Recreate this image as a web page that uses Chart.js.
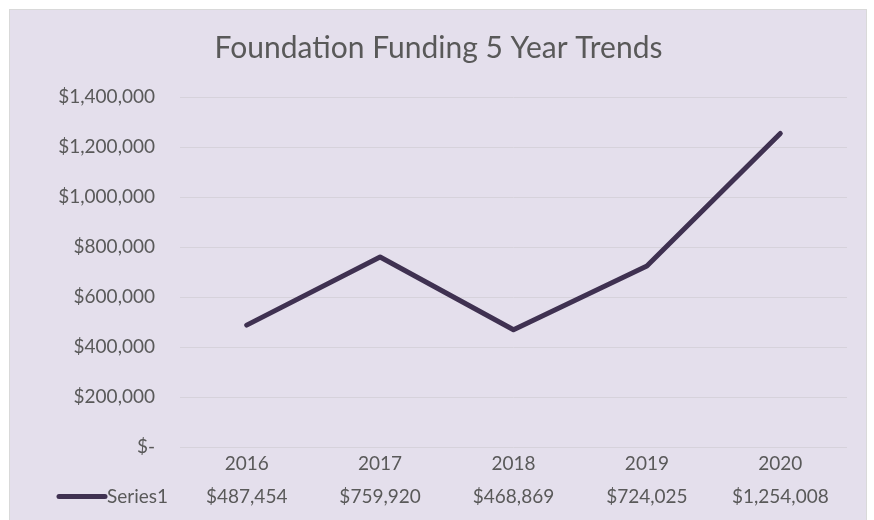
<!DOCTYPE html>
<html>
<head>
<meta charset="utf-8">
<script src="https://cdn.jsdelivr.net/npm/chart.js@4/dist/chart.umd.min.js"></script>
<style>
  html, body { margin: 0; padding: 0; background: #ffffff; }
  #wrap { position: absolute; left: 0; top: 0; width: 874px; height: 520px; }
</style>
</head>
<body>
<div id="wrap"><canvas id="c" width="874" height="520"></canvas></div>
<script>
const chartTitle = 'Foundation Funding 5 Year Trends';
const years = ['2016', '2017', '2018', '2019', '2020'];
const seriesName = 'Series1';
const funding = [487454, 759920, 468869, 724025, 1254008];
const yMin = 0, yMax = 1400000, yStep = 200000;

const FONT = 'Lato, "Open Sans", sans-serif';
const TEXT = '#595959';
const LINE = '#3F3151';
const ROW_H = 33;

function money(v) {
  if (v === 0) return '$-';
  return '$' + v.toLocaleString('en-US');
}

const labels = years.map((y, i) => [y, money(funding[i])]);

const bgPlugin = {
  id: 'bg',
  beforeDraw(chart) {
    const ctx = chart.ctx;
    ctx.save();
    ctx.fillStyle = '#E4DFEC';
    ctx.fillRect(9, 9, 858, 515);
    ctx.strokeStyle = '#D9D9D9';
    ctx.lineWidth = 1;
    ctx.strokeRect(9.5, 9.5, 857, 515);
    ctx.restore();
  }
};

const tableLegend = {
  id: 'tableLegend',
  afterDraw(chart) {
    const ctx = chart.ctx;
    const xs = chart.scales.x;
    const ds = chart.data.datasets[0];
    const y = xs.top + ROW_H * 1.5;
    ctx.save();
    ctx.strokeStyle = ds.borderColor;
    ctx.lineWidth = 5;
    ctx.lineCap = 'round';
    ctx.beginPath();
    ctx.moveTo(59, y);
    ctx.lineTo(105, y);
    ctx.stroke();
    ctx.fillStyle = TEXT;
    ctx.font = '19px ' + FONT;
    ctx.textBaseline = 'middle';
    ctx.textAlign = 'left';
    ctx.fillText(ds.label, 107, y);
    ctx.restore();
  }
};

new Chart(document.getElementById('c'), {
  type: 'line',
  data: {
    labels: labels,
    datasets: [{
      label: seriesName,
      data: funding,
      borderColor: LINE,
      borderWidth: 5,
      borderCapStyle: 'round',
      borderJoinStyle: 'round',
      pointRadius: 0,
      pointHoverRadius: 0,
      tension: 0,
      fill: false
    }]
  },
  options: {
    responsive: false,
    animation: false,
    devicePixelRatio: 1,
    layout: { padding: { left: 30, right: 27, top: 10, bottom: 0 } },
    plugins: {
      legend: { display: false },
      tooltip: { enabled: false },
      title: {
        display: true,
        text: chartTitle,
        color: TEXT,
        font: { family: FONT, size: 30, weight: 'normal', lineHeight: 1.2 },
        padding: { top: 20, bottom: 31 }
      }
    },
    scales: {
      x: {
        offset: true,
        grid: { display: false, drawTicks: false },
        border: { display: false },
        ticks: {
          color: TEXT,
          font: { family: FONT, size: 19, lineHeight: ROW_H + 'px' },
          padding: 0,
          maxRotation: 0,
          autoSkip: false
        },
        afterFit(s) { s.height = 73; }
      },
      y: {
        min: yMin,
        max: yMax,
        border: { display: false },
        grid: { color: '#D6D2DB', lineWidth: 1, drawTicks: false },
        ticks: {
          stepSize: yStep,
          color: TEXT,
          font: { family: FONT, size: 19 },
          padding: 25,
          callback: (v) => money(v)
        },
        afterFit(s) { s.width = 150; }
      }
    }
  },
  plugins: [bgPlugin, tableLegend]
});
</script>
</body>
</html>
